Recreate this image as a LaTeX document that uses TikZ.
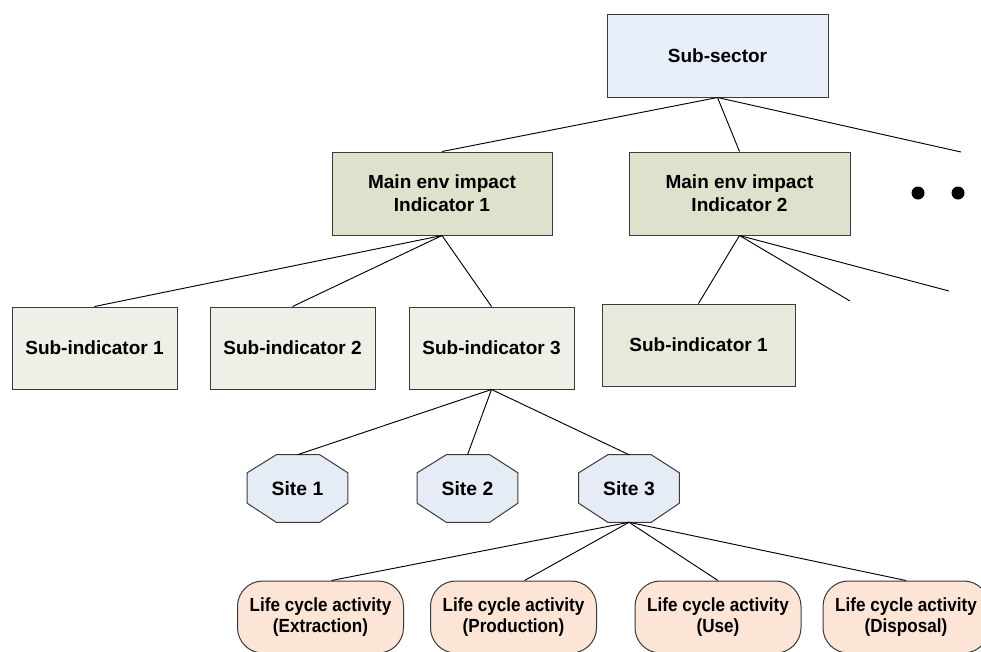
\documentclass[tikz,border=0pt]{standalone}
\usepackage{fontspec}
\setmainfont{Liberation Sans}
\newfontfamily\lcfont[FakeStretch=0.9]{Liberation Sans}
\usetikzlibrary{calc,backgrounds}
\definecolor{bordergray}{HTML}{3A3A3A}
\definecolor{ssfill}{HTML}{E8EEF8}
\definecolor{indfill}{HTML}{DFE1CC}
\definecolor{sifill}{HTML}{EFEFE7}
\definecolor{sidfill}{HTML}{E8E8DC}
\definecolor{sitefill}{HTML}{E6ECF6}
\definecolor{lcfill}{HTML}{FCE4D6}
\begin{document}
\begin{tikzpicture}[x=0.75pt,y=-0.75pt,
  base/.style={draw=bordergray, line width=0.75pt, rectangle, align=center,
    inner sep=0pt, font=\bfseries\fontsize{14.25}{17.25}\selectfont},
  topbox/.style={base, fill=ssfill, minimum width=165.75pt, minimum height=62.25pt},
  indbox/.style={base, fill=indfill, minimum width=165pt, minimum height=62.25pt},
  subbox/.style={base, fill=sifill, minimum width=123.75pt, minimum height=61.5pt},
  subboxd/.style={base, fill=sidfill, minimum width=144.75pt, minimum height=61.5pt},
  sitebox/.style={rectangle, inner sep=0pt, minimum width=75pt, minimum height=50.25pt,
    font=\bfseries\fontsize{14.5}{17.25}\selectfont},
  octo/.style={draw=bordergray, line width=0.75pt, fill=sitefill},
  lcbox/.style={base, fill=lcfill, rounded corners=19pt, minimum width=124.5pt,
    minimum height=54pt, font=\lcfont\bfseries\fontsize{14.25}{15.75}\selectfont},
  conn/.style={draw=black, line width=0.7pt},
  dotnode/.style={circle, fill=black, inner sep=0pt, minimum size=9.75pt}
]
\useasboundingbox (0,0) rectangle (981,651);
\clip (0,0) rectangle (981,651);

\node[topbox] (ss) at (717.5,55.5) {Sub-sector};
\node[indbox] (ind1) at (442,193.5) {Main env impact\\Indicator 1};
\node[indbox, minimum width=165.75pt] (ind2) at (739.5,193.5) {Main env impact\\Indicator 2};
\node[dotnode] (dot1) at (918,193) {};
\node[dotnode] (dot2) at (958,193) {};

\node[subbox] (si1) at (94.5,348) {Sub-indicator 1};
\node[subbox] (si2) at (292.5,348) {Sub-indicator 2};
\node[subbox] (si3) at (491.5,348) {Sub-indicator 3};
\node[subboxd] (si4) at (698.5,345) {Sub-indicator 1};

\node[sitebox] (site1) at (297.5,488.5) {Site 1};
\node[sitebox] (site2) at (467.5,488.5) {Site 2};
\node[sitebox] (site3) at (629,488.5) {Site 3};

\begin{scope}[on background layer]
\foreach \s in {site1,site2,site3}{
  \draw[octo] ($(\s.north west)+(29,0)$) -- ($(\s.north east)+(-28,0)$)
    -- ($(\s.north east)+(0,18)$) -- ($(\s.south east)+(0,-19)$)
    -- ($(\s.south east)+(-28,0)$) -- ($(\s.south west)+(29,0)$)
    -- ($(\s.south west)+(0,-19)$) -- ($(\s.north west)+(0,18)$) -- cycle;
}
\end{scope}

\node[lcbox] (lc1) at (320.5,617) {Life cycle activity\\(Extraction)};
\node[lcbox] (lc2) at (513.5,617) {Life cycle activity\\(Production)};
\node[lcbox] (lc3) at (718,617) {Life cycle activity\\(Use)};
\node[lcbox] (lc4) at (906,617) {Life cycle activity\\(Disposal)};

\coordinate (e1) at (961,152);
\coordinate (e2) at (850,301);
\coordinate (e3) at (949,291);

\draw[conn] (ss.south) -- (ind1.north);
\draw[conn] (ss.south) -- (ind2.north);
\draw[conn] (ss.south) -- (e1);

\draw[conn] (ind1.south) -- (si1.north);
\draw[conn] (ind1.south) -- (si2.north);
\draw[conn] (ind1.south) -- (si3.north);

\draw[conn] (ind2.south) -- (si4.north);
\draw[conn] (ind2.south) -- (e2);
\draw[conn] (ind2.south) -- (e3);

\draw[conn] (si3.south) -- (site1.north);
\draw[conn] (si3.south) -- (site2.north);
\draw[conn] (si3.south) -- (site3.north);

\draw[conn] (site3.south) -- ([xshift=8.25pt]lc1.north);
\draw[conn] (site3.south) -- ([xshift=8.25pt]lc2.north);
\draw[conn] (site3.south) -- (lc3.north);
\draw[conn] (site3.south) -- (lc4.north);
\end{tikzpicture}
\end{document}
